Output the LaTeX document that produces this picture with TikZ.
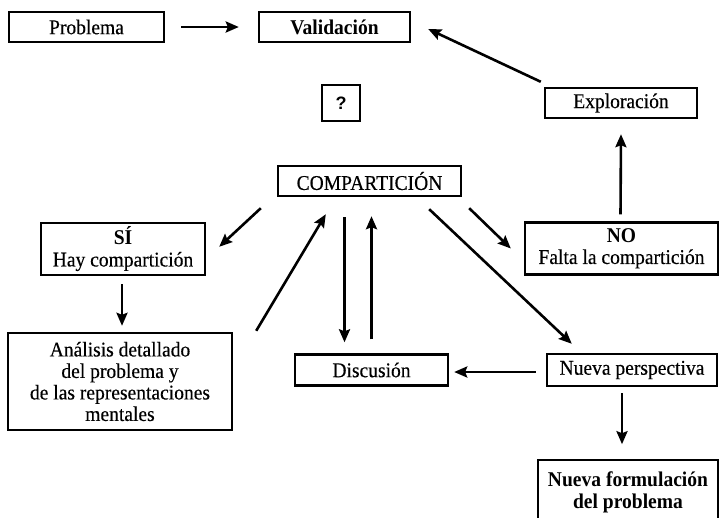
\documentclass[tikz,border=0pt]{standalone}
\usepackage{fontspec}
\setmainfont{Liberation Serif}[FakeStretch=0.93,UprightFeatures={FakeBold=0.3}]
\newfontfamily\qfont{Liberation Sans}
\usetikzlibrary{arrows.meta,calc}
\begin{document}
\begin{tikzpicture}[x=1pt,y=-1pt,
  box/.style={draw,line width=2.4pt,align=center,inner sep=0pt,
    font=\fontsize{21}{21.5}\selectfont},
  arr/.style={line width=2.6pt,-{Stealth[length=13pt,width=11pt,inset=2pt]}}]
\useasboundingbox (0,0) rectangle (719,517);

% boxes
\node[box,minimum width=155,minimum height=30] (prob) at (86.5,27) {Problema};
\node[box,minimum width=151,minimum height=30] (valid) at (334.5,27) {\bfseries Validación};
\node[box,minimum width=38,minimum height=36] (q) at (341,103) {\qfont\bfseries\fontsize{18}{18}\selectfont ?};
\node[box,minimum width=152,minimum height=30] (explo) at (621,103) {Exploración};
\node[box,minimum width=183,minimum height=30] (comp) at (369.5,181) {COMPARTICIÓN};
\node[box,minimum width=164,minimum height=52] (si) at (123,249) {\textbf{SÍ}\\Hay compartición};
\node[box,minimum width=193,minimum height=52] (no) at (621.5,248.5) {\textbf{NO}\\Falta la compartición};
\node[box,minimum width=224,minimum height=97] (anal) at (120,381.5)
  {Análisis detallado\\del problema y\\de las representaciones\\mentales};
\node[box,minimum width=153,minimum height=31] (disc) at (371.5,370) {Discusión};
\node[box,minimum width=170,minimum height=32] (np) at (632,370) {Nueva perspectiva};
\node[box,minimum width=180,minimum height=64,font=\fontsize{21}{22}\selectfont\bfseries]
  (nf) at (628,492) {Nueva formulación\\del problema};

% connectors
\draw[arr] (prob.east) ++(16,0) -- ($(valid.west)+(-19,0)$);
\draw[arr] ($(explo.north west)+(-3,-5)$) -- ($(valid.east)+(17,2)$);
\draw[arr] ($(no.north)+(-1,-7)$) -- ($(explo.south)+(0,15)$);
\draw[arr] ($(comp.south west)+(-16,11)$) -- ($(si.north east)+(13,25)$);
\draw[arr] ($(anal.north east)+(23,-1)$) -- ($(comp.south west)+(49,17)$);
\draw[arr] ($(comp.south)+(-25,20)$) -- ($(disc.north)+(-27,-11)$);
\draw[arr] ($(disc.north)+(0,-14)$) -- ($(comp.south)+(2,19)$);
\draw[arr] ($(comp.south east)+(7,11)$) -- ($(no.west)+(-13,0)$);
\draw[arr] ($(comp.south east)+(-33,12)$) -- ($(np.north west)+(26,-9)$);
\draw[arr] ($(si.south)+(-1,8)$) -- ($(anal.north)+(2,-6)$);
\draw[arr] ($(np.west)+(-10,2)$) -- ($(disc.east)+(5,2)$);
\draw[arr] ($(np.south)+(-10,6)$) -- ($(np.south)+(-10,57)$);
\end{tikzpicture}
\end{document}
